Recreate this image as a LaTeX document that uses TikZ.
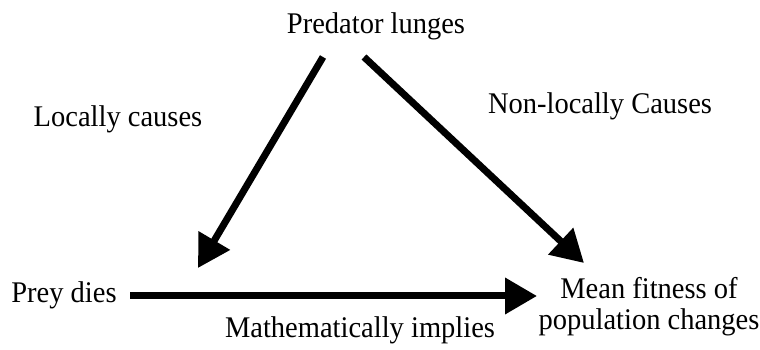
\documentclass[tikz,border=0pt]{standalone}
\usepackage{fontspec}
\setmainfont{Liberation Serif}[FakeStretch=0.95]
\usetikzlibrary{arrows.meta}
\begin{document}
\begin{tikzpicture}[x=1pt,y=1pt,
  lbl/.style={inner sep=0pt,font=\fontsize{30}{31}\selectfont,align=center},
  conn/.style={line width=7pt,-{Triangle[length=32pt,width=35pt]}}]
\useasboundingbox (0,0) rectangle (760,350);
\node[lbl] (pred) at (376,324) {Predator lunges};
\node[lbl] (loc) at (118,231) {Locally causes};
\node[lbl] (nonloc) at (600,244) {Non-locally Causes};
\node[lbl] (prey) at (64,55) {Prey dies};
\node[lbl] (mean) at (649,43) {Mean fitness of\\population changes};
\node[lbl] (math) at (360,20) {Mathematically implies};
\coordinate (l1) at (323,293);
\coordinate (l2) at (198,82);
\coordinate (r1) at (364,293);
\coordinate (r2) at (584,87);
\coordinate (b1) at (130,54);
\coordinate (b2) at (537,54);
\draw[conn] (l1) -- (l2);
\draw[conn] (r1) -- (r2);
\draw[conn] (b1) -- (b2);
\end{tikzpicture}
\end{document}
